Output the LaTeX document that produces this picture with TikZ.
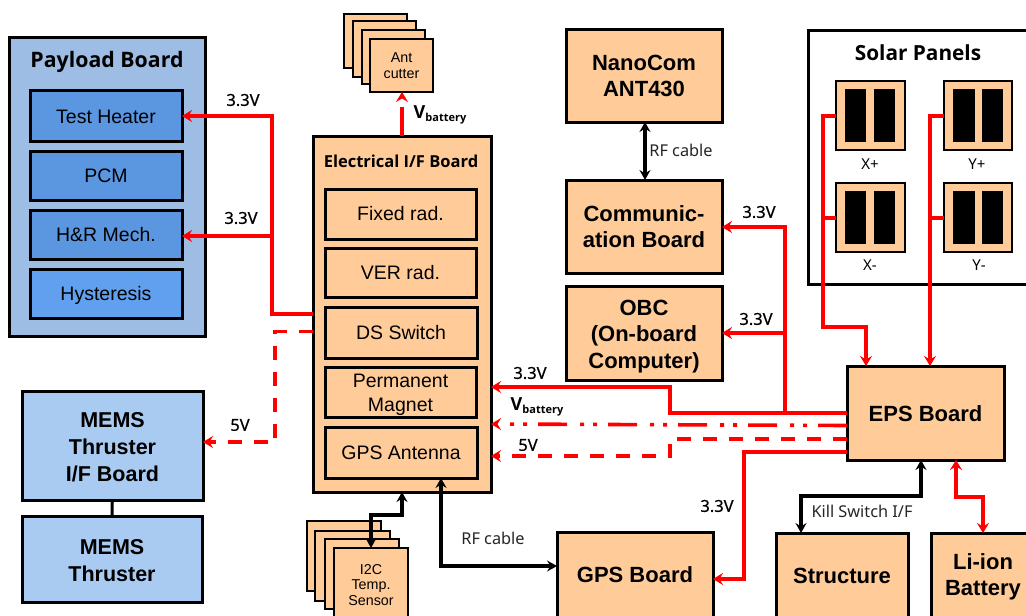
\documentclass[tikz,border=0pt]{standalone}
\usepackage{fontspec}
\setmainfont{Liberation Sans}
\newfontfamily\nsans{Noto Sans}
\newfontfamily\osans{Open Sans}
\newfontfamily\lsans[FakeBold=0.5]{Noto Sans}
\usetikzlibrary{arrows.meta,calc}
\definecolor{org}{RGB}{255,204,153}
\definecolor{payl}{RGB}{158,189,228}
\definecolor{inblue}{RGB}{91,150,224}
\definecolor{hyst}{RGB}{97,160,238}
\definecolor{mems}{RGB}{169,203,242}
\definecolor{redl}{RGB}{255,0,0}
\newcommand{\fs}[1]{\fontsize{#1}{#1}\selectfont}
\newcommand{\dn}[1]{\rule{0pt}{#1pt}}
\tikzset{
  x=1pt,y=-1pt,
  box/.style={draw=black,line width=3pt,inner sep=0pt,outer sep=0pt,fill=org,align=center,font=\fs{19.5}},
  bold/.style={font=\fs{22}\bfseries},
  small/.style={font=\fs{14.3},line width=2.8pt},
  blk/.style={fill=black,draw=none,inner sep=0pt,outer sep=0pt},
  wire/.style={draw=redl,line width=3.6pt,line join=miter,-{Stealth[length=10pt,width=12pt,inset=3.5pt]}},
  nowire/.style={draw=redl,line width=3.6pt},
  dash5/.style={dash pattern=on 14pt off 12pt},
  dashv/.style={dash pattern=on 29pt off 11pt on 4pt off 9pt on 4pt off 13pt},
  bwire/.style={draw=black,line width=3.4pt},
  bboth/.style={{Stealth[length=10pt,width=11pt,inset=3.5pt]}-{Stealth[length=10pt,width=11pt,inset=3.5pt]}},
  lab/.style={font=\lsans\fs{16.5},inner sep=0pt},
  rflab/.style={font=\nsans\fs{16.3},inner sep=0pt,text=black!85},
  ttl/.style={font=\osans\bfseries\fs{21.3},inner sep=0pt},
}
% name x1 y1 x2 y2 style text
\newcommand{\bx}[7]{%
  \pgfmathsetmacro{\bxw}{#4-#2}\pgfmathsetmacro{\bxh}{#5-#3}%
  \pgfmathsetmacro{\bxx}{(#2+#4)/2}\pgfmathsetmacro{\bxy}{(#3+#5)/2}%
  \node[box,#6,minimum width=\bxw pt,minimum height=\bxh pt] (#1) at (\bxx,\bxy) {#7};}
\begin{document}
\begin{tikzpicture}
\path[use as bounding box,clip] (0,0) rectangle (1026,616);
\fill[white] (0,0) rectangle (1026,616);
% Payload
\bx{payload}{9}{37}{205}{336}{fill=payl}{}
\node[ttl] (paytitle) at (107,62) {Payload Board};
\bx{heater}{30}{90}{182}{141}{fill=inblue}{\dn{17}Test Heater}
\bx{pcm}{30}{151}{182}{200}{fill=inblue}{PCM}
\bx{hr}{30}{210}{182}{259}{fill=inblue}{H\&R Mech.}
\bx{hyst}{30}{269}{182}{318}{fill=hyst}{\dn{18.5}Hysteresis}
% MEMS
\bx{memsif}{22}{391}{203}{500}{fill=mems,font=\fs{21.5}\bfseries}{\dn{18}MEMS\\[5.5pt]Thruster\\[5.5pt]I/F Board}
\bx{memst}{22}{516}{202}{602}{fill=mems,font=\fs{21.5}\bfseries}{\dn{18}MEMS\\[5pt]Thruster}
\draw[black,line width=3pt] (memsif) -- (memst);
% Ant cutter stack
\bx{aa}{344}{14}{407}{68}{small}{}
\bx{ab}{353}{21}{416}{77}{small}{}
\bx{ac}{362}{30}{425}{84}{small}{}
\bx{ad}{370}{39}{433}{92}{small}{Ant\\[1pt]cutter}
% Electrical IF
\bx{eif}{313}{136}{491}{492}{}{}
\node[font=\osans\bfseries\fs{16.5},inner sep=0pt] (eiftitle) at (401,161) {Electrical I/F Board};
\bx{fixed}{325}{189}{476}{239}{}{Fixed rad.}
\bx{ver}{325}{248}{476}{297}{}{VER rad.}
\bx{ds}{325}{307}{477}{358}{}{DS Switch}
\bx{pm}{325}{367}{476}{417}{}{\dn{20}Permanent\\[4.5pt]Magnet}
\bx{gant}{325}{427}{477}{478}{}{GPS Antenna}
% I2C stack
\bx{ia}{307}{521}{381}{591}{small}{}
\bx{ib}{315}{531}{390}{601}{small}{}
\bx{ic}{325}{539}{399}{609}{small}{}
\bx{id}{334}{548}{408}{622}{small}{I2C\\[1pt]Temp.\\[1pt]Sensor}
% Right column
\bx{nano}{566}{29}{722}{122}{bold}{NanoCom\\[4pt]ANT430}
\bx{comm}{566}{180}{722}{273}{bold}{Communic-\\[4pt]ation Board}
\bx{obc}{566}{286}{722}{380}{bold}{\dn{22}OBC\\[4.5pt](On-board\\[4.5pt]Computer)}
% Solar
\bx{solar}{808}{30}{1040}{284}{fill=white}{}
\node[ttl,font=\osans\bfseries\fs{20.8}] (soltitle) at (918,53) {Solar Panels};
\bx{xp}{836}{81}{905}{150}{small}{}
\bx{yp}{944}{81}{1012}{150}{small}{}
\bx{xm}{836}{183}{905}{252}{small}{}
\bx{ym}{944}{183}{1012}{252}{small}{}
\node[blk,minimum width=21.5pt,minimum height=53pt] (xp1) at (855.5,115) {};
\node[blk,minimum width=21.5pt,minimum height=53pt] (xp2) at (884.5,115) {};
\node[blk,minimum width=21.5pt,minimum height=53pt] (yp1) at (964,115) {};
\node[blk,minimum width=21.5pt,minimum height=53pt] (yp2) at (992.5,115) {};
\node[blk,minimum width=21.5pt,minimum height=53pt] (xm1) at (855.5,217) {};
\node[blk,minimum width=21.5pt,minimum height=53pt] (xm2) at (884.5,217) {};
\node[blk,minimum width=21.5pt,minimum height=53pt] (ym1) at (964,217) {};
\node[blk,minimum width=21.5pt,minimum height=53pt] (ym2) at (992.5,217) {};
\node[inner sep=0pt,font=\nsans\fs{15}] (lxp) at (870,164) {X+};
\node[inner sep=0pt,font=\nsans\fs{15}] (lyp) at (977,164) {Y+};
\node[inner sep=0pt,font=\nsans\fs{15}] (lxm) at (870,265) {X-};
\node[inner sep=0pt,font=\nsans\fs{15}] (lym) at (979,265) {Y-};
% Lower boards
\bx{eps}{847}{366}{1004}{460}{bold}{\dn{18}EPS Board}
\bx{gps}{557}{532}{713}{618}{bold}{GPS Board}
\bx{struct}{776}{533}{908}{618}{bold}{Structure}
\bx{batt}{931}{533}{1040}{640}{bold}{}
\node[font=\fs{22}\bfseries,align=center,inner sep=0pt] (batttxt) at (983,577) {Li-ion\\[4pt]Battery};
% Red wires, left part
\coordinate (jl) at (272,236);
\draw[wire] (eif.west |- 0,314) -| (272,116) -- (heater.east |- 0,116);
\draw[wire] (jl) -- (hr.east |- jl);
\draw[wire,dash5] (eif.west |- 0,331.5) -| (275,442) -- (memsif.east |- 0,442);
% Ant
\draw[wire,dash pattern=on 29pt off 30pt] (eif.north -| 402,0) -- (ad.south -| 402,0);
% EPS outgoing
\coordinate (jc) at (785,413);
\draw[wire] (eps.west |- jc) -- (670,413) |- (eif.east |- 0,387);
\draw[wire] (jc) |- (comm.east |- 0,227);
\draw[wire] (785,333) -- (obc.east |- 0,333);
\draw[wire,dashv] (eps.west |- 0,425.5) -- (eif.east |- 0,424);
\draw[wire,dash5] (eps.west |- 0,439) -| (670,456) -- (eif.east |- 0,456);
\draw[wire] (eps.west |- 0,452) -| (744,579) -- (gps.east |- 0,579);
% Solar
\draw[wire] (xp.west |- 0,116) -| (823,327) -| (eps.north -| 866,0);
\draw[nowire] (xm.west |- 0,218) -- (823,218);
\draw[wire] (yp.west |- 0,116) -| (eps.north -| 930,0);
\draw[nowire] (ym.west |- 0,218) -- (930,218);
% Battery
\draw[wire,{Stealth[length=10pt,width=12pt,inset=3.5pt]}-{Stealth[length=10pt,width=12pt,inset=3.5pt]}] (eps.south -| 956,0) |- (983,497) -- (batt.north -| 983,0);
% Black wires
\draw[bwire,bboth] (nano.south -| 645,0) -- (comm.north -| 645,0);
\draw[bwire,bboth] (eps.south -| 921,0) |- (801,496) -- (struct.north -| 801,0);
\draw[bwire,bboth] (gant.south -| 441,0) |- (gps.west |- 0,566);
\draw[bwire,bboth] (eif.south -| 402,0) |- (371,515) -- (id.north -| 371,0);
% Labels
\node[lab] (v1) at (243,100) {3.3V};
\node[lab] (v2) at (241,218) {3.3V};
\node[lab] (v3) at (240,425) {5V};
\node[lab] (v4) at (759,212) {3.3V};
\node[lab] (v5) at (756,319) {3.3V};
\node[lab] (v6) at (530,373) {3.3V};
\node[lab] (v7) at (528,445) {5V};
\node[lab] (v8) at (717,506) {3.3V};
\node[inner sep=0pt] (vb1) at (440,115) {\osans\bfseries\fs{18}V\raisebox{-3pt}{\fs{11}battery}};
\node[inner sep=0pt] (vb2) at (537,407) {\osans\bfseries\fs{18}V\raisebox{-3pt}{\fs{11}battery}};
\node[rflab] (rf1) at (681,150.5) {RF cable};
\node[rflab] (rf2) at (493,538) {RF cable};
\node[rflab] (ks) at (862,511) {Kill Switch I/F};
\end{tikzpicture}
\end{document}
